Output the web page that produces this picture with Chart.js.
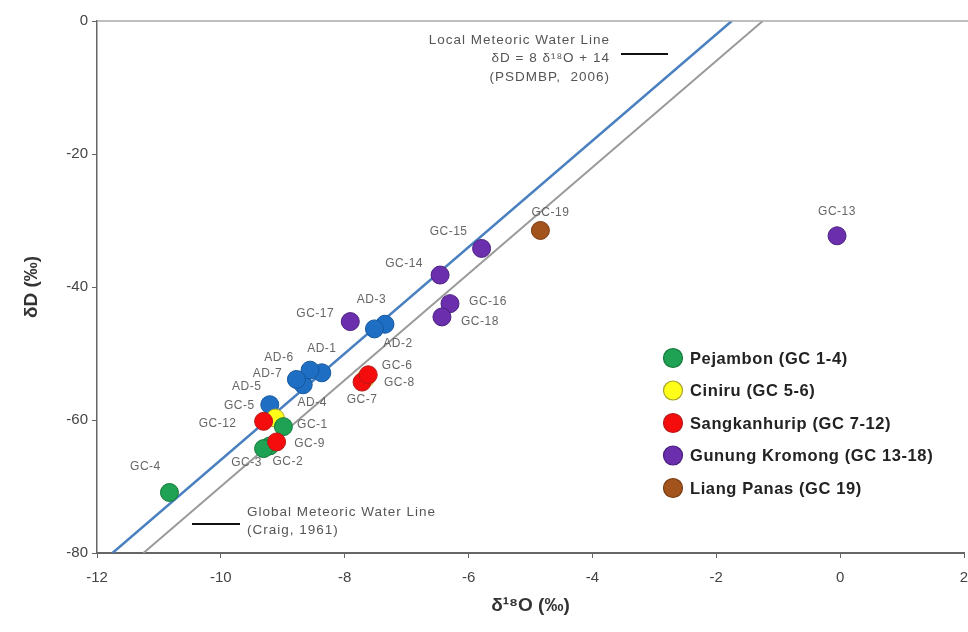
<!DOCTYPE html>
<html>
<head>
<meta charset="utf-8">
<script src="https://cdn.jsdelivr.net/npm/chart.js@4.4.1/dist/chart.umd.min.js"></script>
<style>
  html, body { margin: 0; padding: 0; background: #fff; }
  #wrap { width: 968px; height: 632px; }
  canvas { display: block; }
</style>
</head>
<body>
<div id="wrap"><canvas id="chart" width="968" height="632"></canvas></div>
<script>
// --- Data ---
const pejambonNames = ['GC-1', 'GC-2', 'GC-3', 'GC-4'];
const pejambonX = [-8.99, -9.21, -9.31, -10.83];
const pejambonY = [-61.0, -63.9, -64.3, -70.9];

const ciniruNames = ['GC-5', 'GC-6'];
const ciniruX = [-9.12, -7.67];
const ciniruY = [-59.7, -53.8];

const sangkanNames = ['GC-7', 'GC-8', 'GC-9', 'GC-12'];
const sangkanX = [-7.72, -7.62, -9.10, -9.31];
const sangkanY = [-54.3, -53.2, -63.3, -60.2];

const kromongNames = ['GC-13', 'GC-14', 'GC-15', 'GC-16', 'GC-17', 'GC-18'];
const kromongX = [-0.05, -6.46, -5.79, -6.30, -7.91, -6.43];
const kromongY = [-32.3, -38.2, -34.2, -42.5, -45.2, -44.5];

const panasNames = ['GC-19'];
const panasX = [-4.84];
const panasY = [-31.5];

const adNames = ['AD-1', 'AD-2', 'AD-3', 'AD-4', 'AD-5', 'AD-6', 'AD-7'];
const adX = [-8.37, -7.35, -7.52, -8.67, -9.21, -8.56, -8.78];
const adY = [-52.9, -45.6, -46.3, -54.7, -57.7, -52.5, -53.9];

// meteoric water lines, end points
const lmwlX = [-11.75, -1.75];
const lmwlY = [-80, 0];
const gmwlX = [-11.25, -1.25];
const gmwlY = [-80, 0];

const xTicks = [-12, -10, -8, -6, -4, -2, 0, 2];
const yTicks = [-80, -60, -40, -20, 0];

const legendNames = ['Pejambon (GC 1-4)', 'Ciniru (GC 5-6)', 'Sangkanhurip (GC 7-12)',
  'Gunung Kromong (GC 13-18)', 'Liang Panas (GC 19)'];

// --- Styling ---
const FONT = '"Liberation Sans", Arial, sans-serif';
const COLORS = {
  green: '#1fa253', greenEdge: '#137a3a',
  yellow: '#ffff1a', yellowEdge: '#a8a32a',
  red: '#f50d0d', redEdge: '#b81818',
  purple: '#6b2fae', purpleEdge: '#4a1f80',
  brown: '#a3541c', brownEdge: '#7a3c12',
  blue: '#1e6fc4', blueEdge: '#16589e',
  lmwl: '#4a80c0', gmwl: '#9a9a9a',
  label: '#666', tick: '#444', axis: '#666'
};

// label offsets in pixels from the point centre
const labelOffsets = {
  'GC-1': [29, -2], 'GC-2': [18, 16], 'GC-3': [-17, 14], 'GC-4': [-24, -26],
  'GC-5': [-36, -12], 'GC-6': [32, -13],
  'GC-7': [0, 18], 'GC-8': [31, 8], 'GC-9': [33, 2], 'GC-12': [-46, 2],
  'GC-13': [0, -24], 'GC-14': [-36, -11], 'GC-15': [-33, -17], 'GC-16': [38, -2],
  'GC-17': [-35, -8], 'GC-18': [38, 5], 'GC-19': [10, -18],
  'AD-1': [0, -24], 'AD-2': [13, 19], 'AD-3': [-3, -29], 'AD-4': [9, 18],
  'AD-5': [-23, -18], 'AD-6': [-31, -12], 'AD-7': [-29, -6]
};

const toPoints = (xs, ys, names) => xs.map((x, i) => ({ x: x, y: ys[i], name: names ? names[i] : '' }));

const pointSet = (xs, ys, names, fill, edge, order) => ({
  type: 'scatter',
  data: toPoints(xs, ys, names),
  backgroundColor: fill,
  borderColor: edge,
  borderWidth: 1,
  pointRadius: 9,
  pointHoverRadius: 9,
  order: order
});

const lineSet = (xs, ys, color, width) => ({
  type: 'line',
  data: toPoints(xs, ys),
  borderColor: color,
  borderWidth: width,
  pointRadius: 0,
  fill: false,
  order: 20
});

// the figure lets the last x label run off the edge, so no label padding
const noLabelPadding = (s) => {
  s._calculatePadding = function () {
    this.paddingLeft = 0; this.paddingRight = 0;
    this.paddingTop = 0; this.paddingBottom = 0;
  };
};

// point labels, notes, legend and frame
const decorPlugin = {
  id: 'decor',
  afterDatasetsDraw(chart) {
    const ctx = chart.ctx;
    const area = chart.chartArea;
    ctx.save();

    // top frame line
    ctx.strokeStyle = '#aaa';
    ctx.lineWidth = 1.5;
    ctx.beginPath();
    ctx.moveTo(area.left, area.top);
    ctx.lineTo(chart.width, area.top);
    ctx.stroke();

    // point labels
    ctx.font = '12px ' + FONT;
    ctx.letterSpacing = '0.5px';
    ctx.fillStyle = COLORS.label;
    ctx.textAlign = 'center';
    ctx.textBaseline = 'middle';
    chart.data.datasets.forEach((ds, di) => {
      const meta = chart.getDatasetMeta(di);
      ds.data.forEach((p, i) => {
        const off = labelOffsets[p.name];
        if (!off) return;
        const el = meta.data[i];
        ctx.fillText(p.name, el.x + off[0], el.y + off[1]);
      });
    });

    // water line notes
    ctx.font = '13.5px ' + FONT;
    ctx.letterSpacing = '1px';
    ctx.fillStyle = '#555';
    ctx.textAlign = 'right';
    ctx.fillText('Local Meteoric Water Line', 610, 40);
    ctx.fillText('δD = 8 δ¹⁸O + 14', 610, 58);
    ctx.fillText('(PSDMBP,  2006)', 610, 77);
    ctx.textAlign = 'left';
    ctx.fillText('Global Meteoric Water Line', 247, 512);
    ctx.fillText('(Craig, 1961)', 247, 530);

    ctx.strokeStyle = '#111';
    ctx.lineWidth = 2;
    ctx.beginPath();
    ctx.moveTo(621, 54); ctx.lineTo(668, 54);
    ctx.moveTo(192, 524); ctx.lineTo(240, 524);
    ctx.stroke();

    // legend
    const legendColors = [
      [COLORS.green, COLORS.greenEdge], [COLORS.yellow, COLORS.yellowEdge],
      [COLORS.red, COLORS.redEdge], [COLORS.purple, COLORS.purpleEdge],
      [COLORS.brown, COLORS.brownEdge]
    ];
    ctx.font = 'bold 16.5px ' + FONT;
    ctx.letterSpacing = '0.6px';
    ctx.textBaseline = 'middle';
    legendNames.forEach((name, i) => {
      const y = 358 + i * 32.5;
      ctx.beginPath();
      ctx.arc(673, y, 9.5, 0, Math.PI * 2);
      ctx.fillStyle = legendColors[i][0];
      ctx.fill();
      ctx.strokeStyle = legendColors[i][1];
      ctx.lineWidth = 1.2;
      ctx.stroke();
      ctx.fillStyle = '#222';
      ctx.fillText(name, 690, y + 1);
    });

    ctx.letterSpacing = '0px';
    ctx.restore();
  }
};

const ctx = document.getElementById('chart').getContext('2d');
new Chart(ctx, {
  data: {
    datasets: [
      lineSet(lmwlX, lmwlY, COLORS.lmwl, 2.5),
      lineSet(gmwlX, gmwlY, COLORS.gmwl, 2),
      pointSet(adX, adY, adNames, COLORS.blue, COLORS.blueEdge, 6),
      pointSet(ciniruX, ciniruY, ciniruNames, COLORS.yellow, COLORS.yellowEdge, 5),
      pointSet(pejambonX, pejambonY, pejambonNames, COLORS.green, COLORS.greenEdge, 4),
      pointSet(sangkanX, sangkanY, sangkanNames, COLORS.red, COLORS.redEdge, 3),
      pointSet(kromongX, kromongY, kromongNames, COLORS.purple, COLORS.purpleEdge, 2),
      pointSet(panasX, panasY, panasNames, COLORS.brown, COLORS.brownEdge, 1)
    ]
  },
  options: {
    responsive: false,
    animation: false,
    layout: { autoPadding: false, padding: { top: 21, right: 4, left: 0, bottom: 0 } },
    plugins: {
      legend: { display: false },
      tooltip: { enabled: false }
    },
    scales: {
      x: {
        type: 'linear',
        min: -12, max: 2,
        beforeFit: noLabelPadding,
        afterFit: (s) => { s.height = 79; },
        afterBuildTicks: (s) => { s.ticks = xTicks.map(v => ({ value: v })); },
        border: { display: true, color: COLORS.axis, width: 2 },
        grid: { display: true, drawOnChartArea: false, drawTicks: true, tickLength: 5, color: COLORS.axis },
        ticks: {
          color: COLORS.tick,
          padding: 11,
          font: { family: FONT, size: 15 }
        },
        title: {
          display: true,
          text: 'δ¹⁸O (‰)',
          color: '#333',
          padding: { top: 4, bottom: 15 },
          font: { family: FONT, size: 19, weight: 'bold' }
        }
      },
      y: {
        type: 'linear',
        min: -80, max: 0,
        beforeFit: noLabelPadding,
        afterFit: (s) => { s.width = 97; },
        afterBuildTicks: (s) => { s.ticks = yTicks.map(v => ({ value: v })); },
        border: { display: true, color: COLORS.axis, width: 1.5 },
        grid: { display: true, drawOnChartArea: false, drawTicks: true, tickLength: 5, color: COLORS.axis },
        ticks: {
          color: COLORS.tick,
          padding: 4,
          font: { family: FONT, size: 15 }
        },
        title: {
          display: true,
          text: 'δD (‰)',
          color: '#333',
          padding: { top: 20, bottom: 0 },
          font: { family: FONT, size: 19, weight: 'bold' }
        }
      }
    }
  },
  plugins: [decorPlugin]
});
</script>
</body>
</html>
